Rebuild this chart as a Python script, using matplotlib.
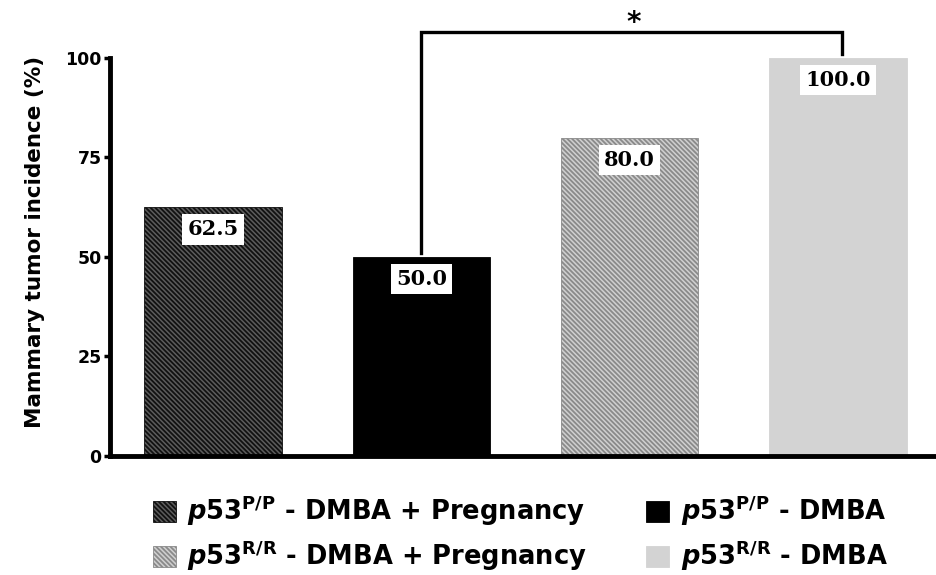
import matplotlib.pyplot as plt
from matplotlib.patches import Patch

groups = ["p53 P/P DMBA + Pregnancy", "p53 P/P DMBA",
          "p53 R/R DMBA + Pregnancy", "p53 R/R DMBA"]
incidence = [62.5, 50.0, 80.0, 100.0]
genotypes = ["P/P", "P/P", "R/R", "R/R"]
treatments = ["DMBA + Pregnancy", "DMBA", "DMBA + Pregnancy", "DMBA"]
yticks = [0, 25, 50, 75, 100]

# looks of each bar: face colour, hatch colour, hatch
faces = ["#5c5c5c", "#000000", "#d0d0d0", "#d3d3d3"]
hatch_cols = ["#111111", "#000000", "#8a8a8a", "#d3d3d3"]
hatches = ["\\" * 7, None, "\\" * 7, None]

plt.rcParams["hatch.linewidth"] = 1.3
plt.rcParams["mathtext.fontset"] = "custom"
plt.rcParams["mathtext.it"] = "DejaVu Sans:italic:bold"
plt.rcParams["mathtext.bf"] = "DejaVu Sans:bold"
plt.rcParams["mathtext.rm"] = "DejaVu Sans:bold"


def main():
    fig = plt.figure(figsize=(9.37, 5.75), dpi=100)
    ax = fig.add_axes([0.1174, 0.2070, 0.8826, 0.6922])

    x = list(range(len(incidence)))
    handles = []
    for i in x:
        ax.bar(i, incidence[i], width=0.66, color=faces[i],
               edgecolor=hatch_cols[i], hatch=hatches[i], linewidth=0.6)
        handles.append(Patch(facecolor=faces[i], edgecolor=hatch_cols[i],
                             hatch=hatches[i], linewidth=0.6))
        ax.annotate("%.1f" % incidence[i], (i, incidence[i]),
                    xytext=(0, -16), textcoords="offset points",
                    ha="center", va="center", fontsize=15,
                    fontweight="bold", family="DejaVu Serif",
                    bbox=dict(boxstyle="square,pad=0.25", fc="white", ec="none"))

    ax.set_xlim(-0.494, 3.475)
    ax.set_ylim(0, 100)
    ax.set_xticks([])
    ax.set_yticks(yticks)
    ax.set_yticklabels([str(t) for t in yticks], fontweight="bold", fontsize=12.5)
    ax.tick_params(axis="y", length=4, width=2.5, pad=2)
    for s in ["top", "right"]:
        ax.spines[s].set_visible(False)
    for s in ["left", "bottom"]:
        ax.spines[s].set_linewidth(3.5)
    ax.set_ylabel("Mammary tumor incidence (%)", fontsize=15.5,
                  fontweight="bold")
    ax.yaxis.set_label_coords(-0.078, 0.538)

    # significance bracket between group 2 and group 4
    ax.plot([1, 1, 3.02, 3.02], [51, 106.5, 106.5, 101], color="black",
            lw=2.4, clip_on=False, solid_joinstyle="miter")
    ax.text(2.02, 108.8, "*", ha="center", va="center", fontsize=20,
            fontweight="bold", clip_on=False)

    labels = [r"$\mathit{p53}^{\mathbf{%s}}$ - %s" % (g, t)
              for g, t in zip(genotypes, treatments)]
    # legend is filled column by column: hatched groups on the left
    order = [0, 2, 1, 3]
    fig.legend([handles[k] for k in order], [labels[k] for k in order],
               ncol=2, loc="center left",
               bbox_to_anchor=(0.163, 0.072), frameon=False,
               prop={"weight": "bold", "size": 18.5},
               handlelength=0.9, handleheight=0.9, handletextpad=0.45,
               columnspacing=2.3, labelspacing=0.42, borderpad=0,
               borderaxespad=0)

    fig.savefig("out.png", dpi=100)


if __name__ == "__main__":
    main()
